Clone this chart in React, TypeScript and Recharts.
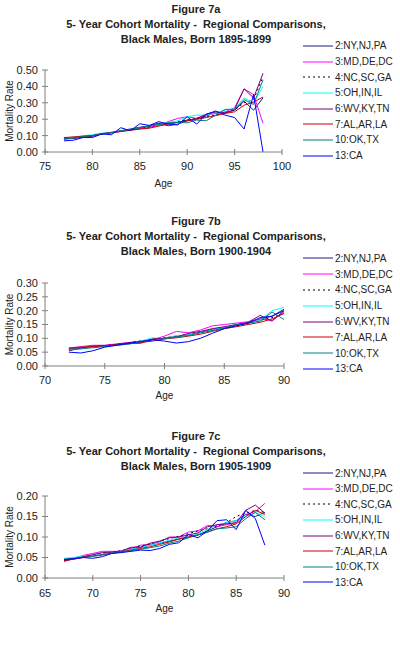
import React from "react";
import { LineChart, Line, XAxis, YAxis } from "recharts";

// Ages covered by each birth cohort
const AGES_A = [77, 78, 79, 80, 81, 82, 83, 84, 85, 86, 87, 88, 89, 90, 91, 92, 93, 94, 95, 96, 97, 98];
const AGES_B = [72, 73, 74, 75, 76, 77, 78, 79, 80, 81, 82, 83, 84, 85, 86, 87, 88, 89, 90];
const AGES_C = [67, 68, 69, 70, 71, 72, 73, 74, 75, 76, 77, 78, 79, 80, 81, 82, 83, 84, 85, 86, 87, 88];

// Born 1895-1899
const A_NY = [0.080, 0.082, 0.090, 0.095, 0.110, 0.120, 0.130, 0.140, 0.150, 0.155, 0.175, 0.175, 0.180, 0.195, 0.200, 0.220, 0.240, 0.240, 0.255, 0.310, 0.255, 0.330];
const A_MD = [0.085, 0.090, 0.095, 0.100, 0.110, 0.115, 0.125, 0.135, 0.140, 0.150, 0.165, 0.185, 0.205, 0.215, 0.205, 0.225, 0.235, 0.245, 0.270, 0.385, 0.350, 0.175];
const A_NC = [0.085, 0.088, 0.095, 0.100, 0.112, 0.120, 0.128, 0.135, 0.145, 0.152, 0.165, 0.175, 0.185, 0.195, 0.205, 0.215, 0.225, 0.240, 0.255, 0.300, 0.320, 0.460];
const A_OH = [0.082, 0.090, 0.100, 0.105, 0.115, 0.120, 0.128, 0.140, 0.150, 0.160, 0.170, 0.180, 0.190, 0.215, 0.225, 0.225, 0.240, 0.255, 0.265, 0.330, 0.300, 0.400];
const A_WV = [0.080, 0.085, 0.092, 0.100, 0.112, 0.118, 0.128, 0.138, 0.150, 0.160, 0.175, 0.160, 0.170, 0.190, 0.205, 0.230, 0.245, 0.235, 0.260, 0.385, 0.330, 0.480];
const A_AL = [0.088, 0.092, 0.096, 0.100, 0.110, 0.118, 0.125, 0.132, 0.140, 0.145, 0.158, 0.170, 0.180, 0.190, 0.200, 0.210, 0.222, 0.235, 0.245, 0.285, 0.305, 0.335];
const A_OK = [0.078, 0.085, 0.095, 0.100, 0.110, 0.118, 0.128, 0.138, 0.148, 0.158, 0.168, 0.178, 0.180, 0.178, 0.195, 0.190, 0.225, 0.260, 0.260, 0.320, 0.290, 0.440];
const A_CA = [0.068, 0.072, 0.088, 0.088, 0.110, 0.105, 0.148, 0.130, 0.172, 0.162, 0.185, 0.170, 0.165, 0.215, 0.170, 0.230, 0.250, 0.225, 0.210, 0.140, 0.350, 0.000];

// Born 1900-1904
const B_NY = [0.062, 0.065, 0.070, 0.073, 0.078, 0.083, 0.090, 0.095, 0.100, 0.108, 0.112, 0.122, 0.132, 0.140, 0.148, 0.155, 0.170, 0.180, 0.205];
const B_MD = [0.065, 0.070, 0.075, 0.075, 0.080, 0.085, 0.090, 0.095, 0.108, 0.125, 0.120, 0.130, 0.145, 0.150, 0.155, 0.160, 0.170, 0.165, 0.195];
const B_NC = [0.060, 0.065, 0.070, 0.074, 0.078, 0.084, 0.090, 0.096, 0.102, 0.108, 0.115, 0.122, 0.130, 0.138, 0.145, 0.152, 0.165, 0.175, 0.190];
const B_OH = [0.060, 0.063, 0.068, 0.072, 0.075, 0.078, 0.090, 0.102, 0.098, 0.110, 0.112, 0.120, 0.130, 0.140, 0.150, 0.155, 0.165, 0.200, 0.212];
const B_WV = [0.055, 0.065, 0.072, 0.074, 0.078, 0.083, 0.082, 0.098, 0.100, 0.105, 0.118, 0.125, 0.135, 0.142, 0.150, 0.158, 0.183, 0.162, 0.200];
const B_AL = [0.065, 0.068, 0.070, 0.072, 0.076, 0.080, 0.085, 0.090, 0.098, 0.102, 0.108, 0.115, 0.125, 0.135, 0.142, 0.150, 0.158, 0.170, 0.190];
const B_OK = [0.058, 0.062, 0.066, 0.070, 0.075, 0.080, 0.088, 0.095, 0.098, 0.105, 0.110, 0.120, 0.128, 0.138, 0.148, 0.155, 0.162, 0.195, 0.168];
const B_CA = [0.050, 0.047, 0.055, 0.068, 0.075, 0.082, 0.088, 0.095, 0.090, 0.083, 0.088, 0.100, 0.118, 0.135, 0.145, 0.155, 0.175, 0.180, 0.200];

// Born 1905-1909
const C_NY = [0.045, 0.048, 0.052, 0.055, 0.057, 0.062, 0.065, 0.070, 0.075, 0.080, 0.085, 0.090, 0.095, 0.100, 0.105, 0.115, 0.125, 0.135, 0.140, 0.155, 0.150, 0.160];
const C_MD = [0.040, 0.048, 0.055, 0.060, 0.065, 0.065, 0.065, 0.072, 0.080, 0.082, 0.088, 0.100, 0.100, 0.112, 0.115, 0.128, 0.125, 0.130, 0.135, 0.155, 0.162, 0.182];
const C_NC = [0.043, 0.047, 0.052, 0.056, 0.060, 0.063, 0.067, 0.072, 0.078, 0.083, 0.090, 0.096, 0.102, 0.108, 0.115, 0.120, 0.128, 0.135, 0.150, 0.158, 0.165, 0.160];
const C_OH = [0.048, 0.050, 0.053, 0.055, 0.058, 0.062, 0.065, 0.070, 0.075, 0.080, 0.086, 0.092, 0.098, 0.100, 0.108, 0.118, 0.130, 0.135, 0.140, 0.150, 0.160, 0.150];
const C_WV = [0.042, 0.046, 0.052, 0.057, 0.062, 0.063, 0.066, 0.075, 0.075, 0.085, 0.090, 0.098, 0.100, 0.105, 0.110, 0.125, 0.130, 0.132, 0.135, 0.165, 0.178, 0.158];
const C_AL = [0.043, 0.046, 0.050, 0.053, 0.057, 0.060, 0.064, 0.068, 0.072, 0.076, 0.082, 0.088, 0.095, 0.100, 0.105, 0.112, 0.120, 0.125, 0.132, 0.150, 0.165, 0.155];
const C_OK = [0.046, 0.048, 0.050, 0.053, 0.056, 0.060, 0.063, 0.067, 0.070, 0.074, 0.078, 0.085, 0.090, 0.098, 0.105, 0.112, 0.120, 0.122, 0.125, 0.145, 0.160, 0.142];
const C_CA = [0.045, 0.047, 0.050, 0.048, 0.052, 0.060, 0.062, 0.065, 0.068, 0.067, 0.072, 0.082, 0.086, 0.106, 0.098, 0.115, 0.140, 0.142, 0.118, 0.165, 0.145, 0.080];

// Axis ticks
const X_TICKS_A = [75, 80, 85, 90, 95, 100];
const X_TICKS_B = [70, 75, 80, 85, 90];
const X_TICKS_C = [65, 70, 75, 80, 85, 90];
const Y_TICKS_A = [0, 0.1, 0.2, 0.3, 0.4, 0.5];
const Y_TICKS_B = [0, 0.05, 0.1, 0.15, 0.2, 0.25, 0.3];
const Y_TICKS_C = [0, 0.05, 0.1, 0.15, 0.2];

const SERIES = [
  { key: "ny", name: "2:NY,NJ,PA", color: "#1a1a8c" },
  { key: "md", name: "3:MD,DE,DC", color: "#ff00ff" },
  { key: "nc", name: "4:NC,SC,GA", color: "#000000", dash: "2 3" },
  { key: "oh", name: "5:OH,IN,IL", color: "#00ffff" },
  { key: "wv", name: "6:WV,KY,TN", color: "#800080" },
  { key: "al", name: "7:AL,AR,LA", color: "#cc0000" },
  { key: "ok", name: "10:OK,TX", color: "#008080" },
  { key: "ca", name: "13:CA", color: "#0000ff" },
];

const buildRows = (ages: number[], cols: Record<string, number[]>) =>
  ages.map((age, i) => {
    const row: Record<string, number> = { age };
    Object.keys(cols).forEach((k) => (row[k] = cols[k][i]));
    return row;
  });

const FIGURES = [
  {
    id: "7a",
    born: "1895-1899",
    rows: buildRows(AGES_A, { ny: A_NY, md: A_MD, nc: A_NC, oh: A_OH, wv: A_WV, al: A_AL, ok: A_OK, ca: A_CA }),
    xTicks: X_TICKS_A,
    yTicks: Y_TICKS_A,
    titleTop: 2,
    legendTop: 38,
    legendStep: 15.7,
    plotTop: 70,
    plotBottom: 152,
    plotRight: 282,
    xGap: 10,
    ageBaseline: 186.5,
  },
  {
    id: "7b",
    born: "1900-1904",
    rows: buildRows(AGES_B, { ny: B_NY, md: B_MD, nc: B_NC, oh: B_OH, wv: B_WV, al: B_AL, ok: B_OK, ca: B_CA }),
    xTicks: X_TICKS_B,
    yTicks: Y_TICKS_B,
    titleTop: 214,
    legendTop: 250.5,
    legendStep: 15.8,
    plotTop: 283,
    plotBottom: 366,
    plotRight: 284,
    xGap: 10,
    ageBaseline: 398.5,
  },
  {
    id: "7c",
    born: "1905-1909",
    rows: buildRows(AGES_C, { ny: C_NY, md: C_MD, nc: C_NC, oh: C_OH, wv: C_WV, al: C_AL, ok: C_OK, ca: C_CA }),
    xTicks: X_TICKS_C,
    yTicks: Y_TICKS_C,
    titleTop: 428.5,
    legendTop: 465.5,
    legendStep: 15.57,
    plotTop: 496,
    plotBottom: 578,
    plotRight: 284,
    xGap: 11,
    ageBaseline: 612,
  },
];

const AXIS = "#808080";
const INK = "#222";
const Y_AXIS_W = 45;
const Y_GAP = 7;

// Excel-style tick marks that cross the axis line
const makeXTick = (gap: number) => (props: any) => {
  const { x, y, payload } = props;
  const ay = y - gap;
  return (
    <g>
      <line x1={x} x2={x} y1={ay - 3} y2={ay + 3} stroke={AXIS} />
      <text x={x} y={y} dy="0.71em" textAnchor="middle" fontSize={11} fill={INK}>
        {payload.value}
      </text>
    </g>
  );
};

const YTick = (props: any) => {
  const { x, y, payload } = props;
  const ax = x + Y_GAP;
  return (
    <g>
      <line x1={ax - 3} x2={ax + 3} y1={y} y2={y} stroke={AXIS} />
      <text x={x} y={y} dy="0.355em" textAnchor="end" fontSize={11} fill={INK}>
        {Number(payload.value).toFixed(2)}
      </text>
    </g>
  );
};

function Figure({ f }: { f: (typeof FIGURES)[number] }) {
  const padTop = 10;
  const plotH = f.plotBottom - f.plotTop;
  const axisH = f.ageBaseline - f.plotBottom;
  const height = padTop + plotH + axisH + 6;
  const yMax = f.yTicks[f.yTicks.length - 1];
  const xDomain = [f.xTicks[0], f.xTicks[f.xTicks.length - 1]];

  return (
    <>
      <div
        style={{
          position: "absolute",
          left: 0,
          top: f.titleTop,
          width: 392,
          textAlign: "center",
          fontWeight: "bold",
          fontSize: 11,
          lineHeight: "15px",
          color: INK,
        }}
      >
        <div>Figure {f.id}</div>
        <div style={{ whiteSpace: "pre" }}>5- Year Cohort Mortality -  Regional Comparisons,</div>
        <div>Black Males, Born {f.born}</div>
      </div>

      <div style={{ position: "absolute", left: 0, top: f.plotTop - padTop }}>
        <LineChart
          width={400}
          height={height}
          data={f.rows}
          margin={{ top: padTop, right: 400 - f.plotRight, bottom: 6, left: 0 }}
        >
          <XAxis
            dataKey="age"
            type="number"
            domain={xDomain}
            ticks={f.xTicks}
            interval={0}
            height={axisH}
            tickSize={0}
            tickMargin={f.xGap}
            tickLine={false}
            axisLine={{ stroke: AXIS }}
            tick={makeXTick(f.xGap)}
            label={{ value: "Age", position: "insideBottom", offset: 0, fontSize: 10, fill: INK }}
          />
          <YAxis
            type="number"
            domain={[0, yMax]}
            ticks={f.yTicks}
            interval={0}
            width={Y_AXIS_W}
            tickSize={0}
            tickMargin={Y_GAP}
            tickLine={false}
            axisLine={{ stroke: AXIS }}
            tick={YTick}
            label={{
              value: "Mortality Rate",
              angle: -90,
              position: "insideLeft",
              offset: 9,
              fontSize: 10,
              fill: INK,
              style: { textAnchor: "middle" },
            }}
          />
          {SERIES.map((s) => (
            <Line
              key={s.key}
              dataKey={s.key}
              name={s.name}
              stroke={s.color}
              strokeWidth={1}
              strokeDasharray={s.dash}
              dot={false}
              isAnimationActive={false}
            />
          ))}
        </LineChart>
      </div>

      <div style={{ position: "absolute", left: 303, top: f.legendTop }}>
        {SERIES.map((s) => (
          <div
            key={s.key}
            style={{ height: f.legendStep, display: "flex", alignItems: "center", fontSize: 10, color: INK }}
          >
            <svg width={32} height={4} style={{ display: "block" }}>
              <line x1={0} x2={30} y1={2} y2={2} stroke={s.color} strokeWidth={1} strokeDasharray={s.dash} />
            </svg>
            <span>{s.name}</span>
          </div>
        ))}
      </div>
    </>
  );
}

export default function App() {
  return (
    <div
      style={{
        position: "absolute",
        left: 0,
        top: 0,
        width: 400,
        height: 668,
        background: "#fff",
        fontFamily: "'Liberation Sans', Arial, sans-serif",
        overflow: "hidden",
      }}
    >
      {FIGURES.map((f) => (
        <Figure key={f.id} f={f} />
      ))}
    </div>
  );
}
